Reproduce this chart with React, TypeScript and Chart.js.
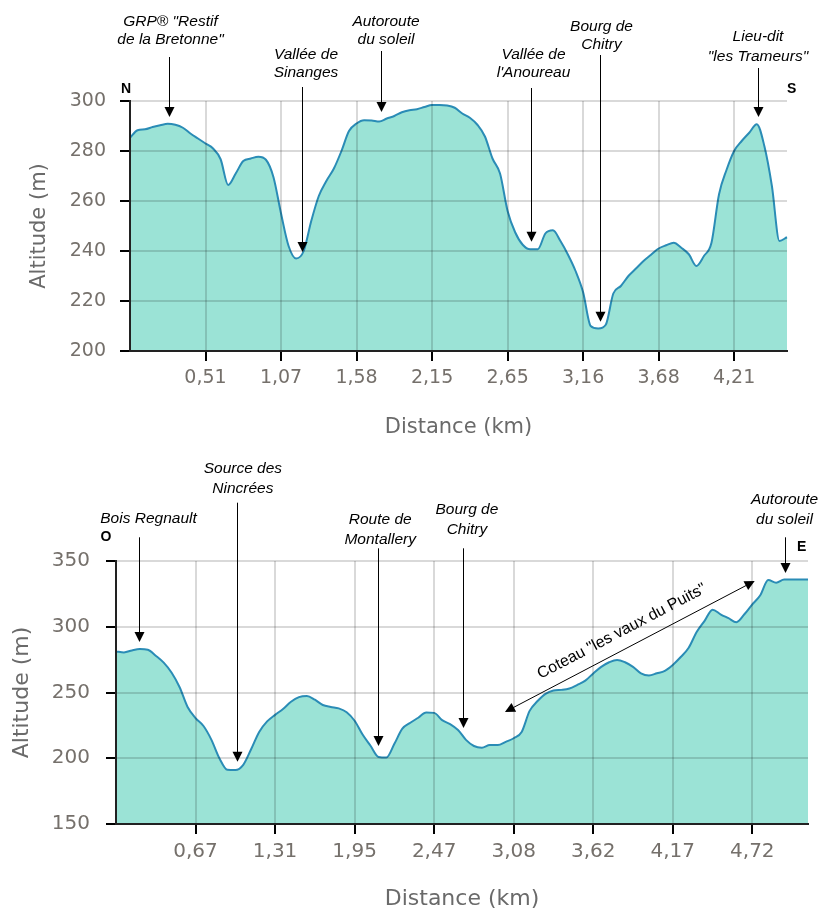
import React, { useEffect, useRef } from 'react';
import { Chart, registerables } from 'chart.js';

Chart.register(...registerables);

// ---------- DATA ----------
// Profile N -> S : altitude (m) per sampled point
const altitudeNS = [
  285.3, 288.3, 288.7, 289.6, 290.3, 290.9, 290.5, 289.3, 287, 285,
  283, 281, 276.7, 266.4, 271, 276, 277, 277.7, 276.5, 269.5,
  255, 242, 237, 240, 252, 262, 268, 273, 280, 288,
  291, 292.3, 292.2, 291.8, 293, 294, 295.5, 296.3, 296.7, 297.6,
  298.4, 298.4, 298.2, 297.3, 295, 293.3, 290.5, 285.8, 277, 271,
  256, 247.5, 242.5, 240.7, 240.7, 247, 248.3, 244, 238.5, 232,
  223.5, 210, 209, 210.5, 223, 226, 230, 233, 236, 238.5,
  241, 242.3, 243.3, 241.3, 238.7, 234, 238, 243.3, 262.7, 272.5,
  280, 284, 287.3, 290.7, 282, 266, 244, 245.5,
];
const distanceTicksNS = ['0,51', '1,07', '1,58', '2,15', '2,65', '3,16', '3,68', '4,21'];

// Profile O -> E : altitude (m) per sampled point
const altitudeOE = [
  281.2, 280.5, 282, 283, 282.5, 278, 272.7, 265, 254, 239,
  230.5, 224.5, 214, 200, 191.2, 191, 195, 207, 220, 228,
  233, 237.5, 243, 246.5, 247.3, 244.5, 240.5, 239, 237.9, 235,
  228.5, 218, 209.5, 201, 200.5, 211, 222.5, 227, 230.8, 234.8,
  234.5, 229, 226, 221.5, 214, 209.3, 208, 210, 210, 212.5,
  215.2, 220, 236, 243.5, 249, 251.5, 252, 253, 255.8, 259,
  264.5, 269.5, 273, 274.8, 273, 269.5, 264.5, 262.9, 264.6, 266.5,
  271, 277, 284, 296, 304.5, 313, 309.5, 306.5, 303.5, 309.5,
  317, 324, 335.5, 333.5, 336, 336, 336, 336,
];
const distanceTicksOE = ['0,67', '1,31', '1,95', '2,47', '3,08', '3,62', '4,17', '4,72'];

const POINTS_PER_TICK = 10;

// ---------- ANNOTATIONS (anchored on data: point index + altitude) ----------
type Note = { lines: string[]; at: number; tip: number; lineTop: number; dx: number; textY: number[] };

const notesNS: Note[] = [
  { lines: ['GRP® "Restif', 'de la Bretonne"'], at: 5.17, tip: 293.6, lineTop: 57, dx: 1, textY: [22, 40] },
  { lines: ['Vallée de', 'Sinanges'], at: 22.8, tip: 239.6, lineTop: 87, dx: 3.5, textY: [55, 72.5] },
  { lines: ['Autoroute', 'du soleil'], at: 33.3, tip: 295.6, lineTop: 51, dx: 4.5, textY: [21.5, 39.5] },
  { lines: ['Vallée de', "l'Anoureau"], at: 53.1, tip: 243.7, lineTop: 88, dx: 2, textY: [55, 72.7] },
  { lines: ['Bourg de', 'Chitry'], at: 62.3, tip: 211.7, lineTop: 55, dx: 1, textY: [26.7, 45] },
  { lines: ['Lieu-dit', '"les Trameurs"'], at: 83.1, tip: 293.6, lineTop: 68, dx: -0.5, textY: [37, 57] },
];

const notesOE: Note[] = [
  { lines: ['Bois Regnault'], at: 2.93, tip: 288.4, lineTop: 92.3, dx: 9, textY: [73.3] },
  { lines: ['Source des', 'Nincrées'], at: 15.2, tip: 197.4, lineTop: 57.7, dx: 5.4, textY: [23.3, 43.3] },
  { lines: ['Route de', 'Montallery'], at: 32.9, tip: 209.3, lineTop: 103.3, dx: 1.7, textY: [75, 94.3] },
  { lines: ['Bourg de', 'Chitry'], at: 43.6, tip: 223, lineTop: 103.3, dx: 3.4, textY: [65, 85] },
  { lines: ['Autoroute', 'du soleil'], at: 84.05, tip: 340.9, lineTop: 92.3, dx: -1, textY: [55, 75] },
];

type Slope = { text: string; from: [number, number]; to: [number, number]; offset: number };
const slopeOE: Slope = { text: 'Coteau "les vaux du Puits"', from: [48.9, 235.2], to: [80.3, 334.8], offset: 17 };

type Compass = { text: string; x: number; y: number };
const compassNS: Compass[] = [{ text: 'N', x: 126, y: 89 }, { text: 'S', x: 791.7, y: 89 }];
const compassOE: Compass[] = [{ text: 'O', x: 106, y: 92 }, { text: 'E', x: 801.7, y: 101.7 }];

// ---------- STYLE ----------
const LINE_COLOR = '#2a8cb6';
const FILL_COLOR = 'rgba(72, 204, 180, 0.55)';
const GRID_COLOR = 'rgba(0,0,0,0.15)';
const TICK_COLOR = '#75706b';
const TITLE_COLOR = '#6a6a6a';
const AXIS_FONT = '"DejaVu Sans", Verdana, sans-serif';
const NOTE_FONT = '"Liberation Sans", Arial, sans-serif';

type Spec = {
  width: number;
  height: number;
  values: number[];
  tickLabels: string[];
  yMin: number;
  yMax: number;
  yStep: number;
  yWidth: number;
  xHeight: number;
  padTop: number;
  padRight: number;
  padBottom: number;
  tickSize: number;
  titleSize: number;
  yTitlePad: number;
  yTickPad: number;
  notes: Note[];
  compass: Compass[];
  slope?: Slope;
};

function arrowHead(ctx: CanvasRenderingContext2D, x: number, y: number, angle: number, len: number, half: number) {
  ctx.save();
  ctx.translate(x, y);
  ctx.rotate(angle);
  ctx.beginPath();
  ctx.moveTo(0, 0);
  ctx.lineTo(-len, -half);
  ctx.lineTo(-len, half);
  ctx.closePath();
  ctx.fill();
  ctx.restore();
}

function makeAnnotationPlugin(spec: Spec) {
  return {
    id: 'profileNotes',
    afterDraw(chart: any) {
      const ctx: CanvasRenderingContext2D = chart.ctx;
      const xs = chart.scales.x;
      const ys = chart.scales.y;
      ctx.save();
      ctx.fillStyle = '#000';
      ctx.strokeStyle = '#000';
      ctx.lineWidth = 1;
      ctx.textAlign = 'center';
      ctx.textBaseline = 'middle';
      for (const n of spec.notes) {
        const x = Math.round(xs.getPixelForValue(n.at)) + 0.5;
        const tipY = ys.getPixelForValue(n.tip);
        ctx.font = `italic 15.5px ${NOTE_FONT}`;
        n.lines.forEach((l, i) => ctx.fillText(l, x + n.dx, n.textY[i]));
        ctx.beginPath();
        ctx.moveTo(x, n.lineTop);
        ctx.lineTo(x, tipY - 8);
        ctx.stroke();
        arrowHead(ctx, x, tipY, Math.PI / 2, 10, 5);
      }
      if (spec.slope) {
        const s = spec.slope;
        const x1 = xs.getPixelForValue(s.from[0]);
        const y1 = ys.getPixelForValue(s.from[1]);
        const x2 = xs.getPixelForValue(s.to[0]);
        const y2 = ys.getPixelForValue(s.to[1]);
        const ang = Math.atan2(y2 - y1, x2 - x1);
        ctx.lineWidth = 1;
        ctx.beginPath();
        ctx.moveTo(x1 + Math.cos(ang) * 8, y1 + Math.sin(ang) * 8);
        ctx.lineTo(x2 - Math.cos(ang) * 8, y2 - Math.sin(ang) * 8);
        ctx.stroke();
        arrowHead(ctx, x2, y2, ang, 10, 5);
        arrowHead(ctx, x1, y1, ang + Math.PI, 10, 5);
        const mx = (x1 + x2) / 2 + Math.sin(ang) * s.offset;
        const my = (y1 + y2) / 2 - Math.cos(ang) * s.offset;
        ctx.save();
        ctx.translate(mx, my);
        ctx.rotate(ang);
        ctx.font = `16px ${NOTE_FONT}`;
        ctx.fillText(s.text, 0, 0);
        ctx.restore();
      }
      ctx.font = `bold 14px ${NOTE_FONT}`;
      for (const c of spec.compass) ctx.fillText(c.text, c.x, c.y);
      ctx.restore();
    },
  };
}

function buildChart(canvas: HTMLCanvasElement, spec: Spec) {
  const isMajor = (i: number) => i > 0 && i % POINTS_PER_TICK === 0;
  return new Chart(canvas, {
    type: 'line',
    data: {
      labels: spec.values.map((_, i) => String(i)),
      datasets: [
        {
          data: spec.values,
          borderColor: LINE_COLOR,
          backgroundColor: FILL_COLOR,
          borderWidth: 2,
          fill: 'start',
          pointRadius: 0,
          cubicInterpolationMode: 'monotone',
        },
      ],
    },
    options: {
      responsive: false,
      maintainAspectRatio: false,
      animation: false,
      events: [],
      layout: { padding: { top: spec.padTop, right: spec.padRight, bottom: spec.padBottom, left: 0 } },
      plugins: { legend: { display: false }, tooltip: { enabled: false } },
      scales: {
        x: {
          type: 'category',
          offset: false,
          afterFit: (s: any) => {
            s.height = spec.xHeight;
          },
          grid: {
            z: 1,
            offset: false,
            color: (c: any) => (isMajor(c.index) ? GRID_COLOR : 'rgba(0,0,0,0)'),
            lineWidth: 2,
            tickColor: (c: any) => (isMajor(c.index) ? '#000' : 'rgba(0,0,0,0)'),
            tickWidth: 2,
            tickLength: 10,
          },
          border: { display: true, color: '#222', width: 2, z: 2 },
          ticks: {
            autoSkip: false,
            maxRotation: 0,
            minRotation: 0,
            padding: 6,
            color: TICK_COLOR,
            font: { family: AXIS_FONT, size: spec.tickSize },
            callback: (_v: any, i: number) => (isMajor(i) ? spec.tickLabels[i / POINTS_PER_TICK - 1] ?? '' : ''),
          },
          title: {
            display: true,
            text: 'Distance (km)',
            color: TITLE_COLOR,
            font: { family: AXIS_FONT, size: spec.titleSize },
            padding: { top: 0, bottom: 0 },
          },
        },
        y: {
          min: spec.yMin,
          max: spec.yMax,
          afterFit: (s: any) => {
            s.width = spec.yWidth;
          },
          grid: {
            z: 1,
            color: GRID_COLOR,
            lineWidth: 2,
            tickColor: '#000',
            tickWidth: 2,
            tickLength: 10,
          },
          border: { display: true, color: '#222', width: 2, z: 2 },
          ticks: {
            stepSize: spec.yStep,
            padding: spec.yTickPad,
            color: TICK_COLOR,
            font: { family: AXIS_FONT, size: spec.tickSize },
          },
          title: {
            display: true,
            text: 'Altitude (m)',
            color: TITLE_COLOR,
            font: { family: AXIS_FONT, size: spec.titleSize },
            padding: { top: spec.yTitlePad, bottom: 0 },
          },
        },
      },
    } as any,
    plugins: [makeAnnotationPlugin(spec)],
  } as any);
}

const specNS: Spec = {
  width: 820,
  height: 445,
  values: altitudeNS,
  tickLabels: distanceTicksNS,
  yMin: 200,
  yMax: 300,
  yStep: 20,
  yWidth: 130,
  xHeight: 89,
  padTop: 101,
  padRight: 33,
  padBottom: 5,
  tickSize: 19,
  titleSize: 21,
  yTitlePad: 27,
  yTickPad: 14,
  notes: notesNS,
  compass: compassNS,
};

const specOE: Spec = {
  width: 820,
  height: 467,
  values: altitudeOE,
  tickLabels: distanceTicksOE,
  yMin: 150,
  yMax: 350,
  yStep: 50,
  yWidth: 116,
  xHeight: 88,
  padTop: 116,
  padRight: 12,
  padBottom: 0,
  tickSize: 20,
  titleSize: 22,
  yTitlePad: 9,
  yTickPad: 16,
  notes: notesOE,
  compass: compassOE,
  slope: slopeOE,
};

function Profile({ spec, top }: { spec: Spec; top: number }) {
  const ref = useRef<HTMLCanvasElement | null>(null);
  useEffect(() => {
    if (!ref.current) return;
    const chart = buildChart(ref.current, spec);
    return () => chart.destroy();
  }, [spec]);
  return (
    <canvas
      ref={ref}
      width={spec.width}
      height={spec.height}
      style={{ position: 'absolute', left: 0, top, width: spec.width, height: spec.height, display: 'block' }}
    />
  );
}

export default function App() {
  return (
    <div style={{ position: 'absolute', left: 0, top: 0, width: 820, height: 912, background: '#fff', overflow: 'hidden' }}>
      <Profile spec={specNS} top={0} />
      <Profile spec={specOE} top={445} />
    </div>
  );
}
